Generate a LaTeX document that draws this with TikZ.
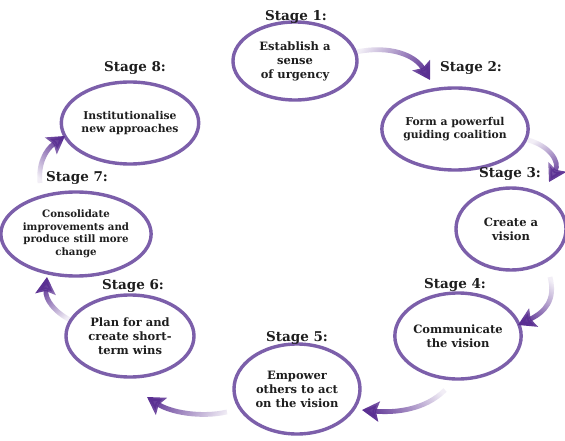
\documentclass[tikz,border=0pt]{standalone}
\usepackage{fontspec}
\setmainfont{DejaVu Serif}
\usetikzlibrary{shapes.geometric,arrows.meta,fadings}
\definecolor{ring}{HTML}{7C5FAA}
\definecolor{arr}{HTML}{5A2F92}
\definecolor{txt}{HTML}{1E1E1E}
\tikzfading[name=arrowfade, left color=transparent!92, right color=transparent!0]
\tikzset{
  stagebox/.style={ellipse, draw=ring, line width=3.4pt, fill=white, inner sep=0pt,
    align=center, text=txt, font=\bfseries\fontsize{11.5}{14}\selectfont},
  smallbox/.style={stagebox, font=\bfseries\fontsize{10.8}{13}\selectfont},
  tinybox/.style={stagebox, font=\bfseries\fontsize{10.2}{12.5}\selectfont},
  stagelabel/.style={text=txt, font=\bfseries\fontsize{13.5}{16}\selectfont, inner sep=0pt},
  flow/.style={line width=4.8pt, draw=arr, -{Stealth[length=17pt,width=20pt,inset=3pt]},
    path fading=arrowfade, fading angle=#1}
}
\begin{document}
\begin{tikzpicture}[x=1pt,y=-1pt]
\useasboundingbox (0,0) rectangle (565,441);
\fill[white] (0,0) rectangle (565,441);

% ellipses
\node[stagebox, minimum width=124pt, minimum height=78pt] (s1) at (295,61) {Establish a\\sense\\of urgency};
\node[smallbox, minimum width=130pt, minimum height=82pt] (s2) at (455,129) {Form a powerful\\guiding coalition};
\node[stagebox, minimum width=110pt, minimum height=82pt] (s3) at (511,229) {Create a\\vision};
\node[stagebox, minimum width=120pt, minimum height=86pt] (s4) at (458,336) {Communicate\\the vision};
\node[stagebox, minimum width=126pt, minimum height=90pt] (s5) at (297,389) {Empower\\others to act\\on the vision};
\node[stagebox, minimum width=128pt, minimum height=82pt] (s6) at (130,336) {Plan for and\\create short-\\term wins};
\node[tinybox, minimum width=126pt, minimum height=84pt] (s7) at (76,234) {Consolidate\\improvements and\\produce still more\\change};
\node[smallbox, minimum width=128pt, minimum height=82pt] (s8) at (130,123) {Institutionalise\\new approaches};

% stage labels
\node[stagelabel] (l1) at (296,17) {Stage 1:};
\node[stagelabel] (l2) at (471,68) {Stage 2:};
\node[stagelabel] (l3) at (510,174) {Stage 3:};
\node[stagelabel] (l4) at (455,285) {Stage 4:};
\node[stagelabel] (l5) at (297,338) {Stage 5:};
\node[stagelabel] (l6) at (133,286) {Stage 6:};
\node[stagelabel] (l7) at (77,178) {Stage 7:};
\node[stagelabel] (l8) at (135,68) {Stage 8:};

% arrow end points
\coordinate (a1t) at (356,52);  \coordinate (a1h) at (430,80);
\coordinate (a2t) at (528,140); \coordinate (a2h) at (549,182);
\coordinate (a3t) at (550,277); \coordinate (a3h) at (518,325);
\coordinate (a4t) at (445,390); \coordinate (a4h) at (362,410);
\coordinate (a5t) at (227,412); \coordinate (a5h) at (147,397);
\coordinate (a6t) at (70,320);  \coordinate (a6h) at (47,277);
\coordinate (a7t) at (40,183);  \coordinate (a7h) at (65,136);

\draw[flow=-21] (a1t) .. controls (390,45) and (415,55) .. (a1h);
\draw[flow=-63] (a2t) .. controls (550,146) and (560,162) .. (a2h);
\draw[flow=-124] (a3t) .. controls (556,300) and (545,312) .. (a3h);
\draw[flow=-166] (a4t) .. controls (425,410) and (395,413) .. (a4h);
\draw[flow=169] (a5t) .. controls (200,418) and (170,412) .. (a5h);
\draw[flow=118] (a6t) .. controls (55,312) and (45,300) .. (a6h);
\draw[flow=62] (a7t) .. controls (38,165) and (45,150) .. (a7h);
\end{tikzpicture}
\end{document}
